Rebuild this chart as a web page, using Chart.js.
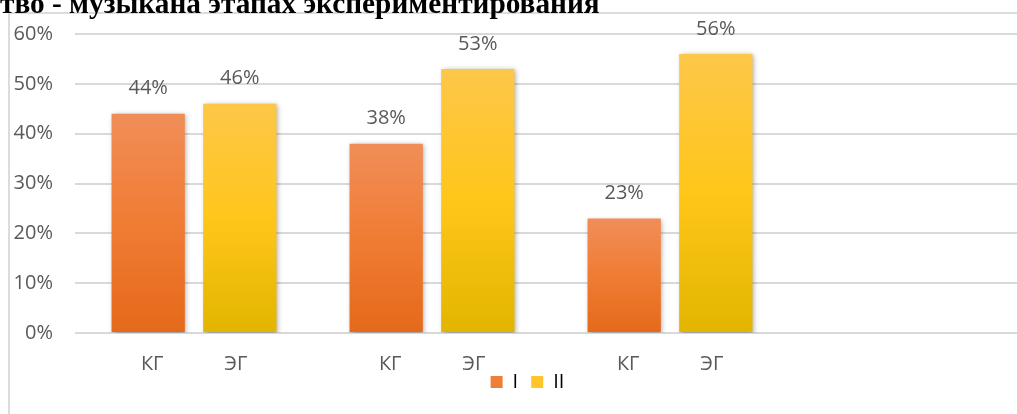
<!DOCTYPE html>
<html lang="ru">
<head>
<meta charset="utf-8">
<title>Уровни по этапам</title>
<script src="https://cdn.jsdelivr.net/npm/chart.js@4.4.1/dist/chart.umd.min.js"></script>
<style>
  html, body { margin: 0; padding: 0; background: #fff; overflow: hidden; width: 1017px; height: 414px; }
  #frame { position: absolute; left: 8px; top: 12px; width: 1100px; height: 420px;
           border-left: 2px solid #dcdcdc; border-top: 2px solid #dcdcdc; box-sizing: border-box; }
  #heading { position: absolute; left: 0; top: -11px; margin: 0; white-space: nowrap;
             font: bold 29.3px "Liberation Serif", "Times New Roman", serif; color: #000; line-height: 29px; z-index: 2; }
  #chart { position: absolute; left: 0; top: 0; }
</style>
</head>
<body>
<div id="frame"></div>
<div id="heading">тво - музыкана этапах экспериментирования</div>
<canvas id="chart" width="1040" height="414"></canvas>
<script>
// Groups on the axis (the last slot is left empty on purpose)
const groups = ['1', '2', '3', ''];
// Bar captions under each series bar
const groupLabelsI = ['КГ', 'КГ', 'КГ'];
const groupLabelsII = ['ЭГ', 'ЭГ', 'ЭГ'];
// Series values, percent
const seriesI = [44, 38, 23, null];
const seriesII = [46, 53, 56, null];
const seriesNames = ['I', 'II'];
// Y-axis range
const yMax = 60;
const yStep = 10;

const textGray = '#595959';
const uiFont = '"Open Sans", "Segoe UI", sans-serif';

function barGradient(stops) {
  return (ctx) => {
    const chart = ctx.chart;
    const area = chart.chartArea;
    if (!area || ctx.type !== 'data' || ctx.raw == null) return stops[1];
    const yScale = chart.scales.y;
    const top = yScale.getPixelForValue(ctx.raw);
    const bottom = yScale.getPixelForValue(0);
    const g = chart.ctx.createLinearGradient(0, top, 0, bottom);
    g.addColorStop(0, stops[0]);
    g.addColorStop(0.5, stops[1]);
    g.addColorStop(1, stops[2]);
    return g;
  };
}

const orangeStops = ['#F08E58', '#F07C34', '#E5691A'];
const yellowStops = ['#FDC749', '#FFC61A', '#E2B500'];

// Soft drop shadow under the bars
const barShadow = {
  id: 'barShadow',
  beforeDatasetsDraw(chart) {
    const c = chart.ctx;
    c.save();
    c.shadowColor = 'rgba(0,0,0,0.34)';
    c.shadowBlur = 5;
    c.shadowOffsetX = 1.5;
    c.shadowOffsetY = 1.5;
  },
  afterDatasetsDraw(chart) {
    chart.ctx.restore();
  }
};

// Move the legend a little to the right of the canvas centre
const legendShift = {
  id: 'legendShift',
  beforeDraw(chart, args, opts) {
    const lg = chart.legend;
    if (!lg || lg.__shifted) return;
    const draw = lg.draw.bind(lg);
    lg.draw = function (area) {
      chart.ctx.save();
      chart.ctx.translate(opts.dx || 0, 0);
      draw(area);
      chart.ctx.restore();
    };
    lg.__shifted = true;
  }
};

// Value labels above bars and КГ / ЭГ captions under them
const barText = {
  id: 'barText',
  afterDatasetsDraw(chart) {
    const c = chart.ctx;
    const area = chart.chartArea;
    c.save();
    c.fillStyle = textGray;
    c.font = '20px ' + uiFont;
    c.textAlign = 'center';
    c.textBaseline = 'middle';
    const captions = [groupLabelsI, groupLabelsII];
    const nudge = [4, -4];
    chart.data.datasets.forEach((ds, di) => {
      const meta = chart.getDatasetMeta(di);
      meta.data.forEach((bar, i) => {
        const v = ds.data[i];
        if (v == null) return;
        c.fillText(v + '%', bar.x, bar.y - 25);
        const cap = captions[di][i];
        if (cap) c.fillText(cap, bar.x + nudge[di], area.bottom + 31);
      });
    });
    c.restore();
  }
};

new Chart(document.getElementById('chart'), {
  type: 'bar',
  data: {
    labels: groups,
    datasets: [
      { label: seriesNames[0], data: seriesI, backgroundColor: barGradient(orangeStops) },
      { label: seriesNames[1], data: seriesII, backgroundColor: barGradient(yellowStops) }
    ]
  },
  options: {
    responsive: false,
    animation: false,
    devicePixelRatio: 1,
    categoryPercentage: 0.77,
    barPercentage: 0.8,
    layout: { padding: { left: 0, right: 13, top: 32, bottom: 12 } },
    scales: {
      x: {
        grid: { display: false, drawTicks: false },
        border: { display: false },
        ticks: { display: false },
        afterFit(scale) { scale.height = 26; }
      },
      y: {
        min: 0,
        max: yMax,
        ticks: {
          stepSize: yStep,
          padding: 22,
          color: textGray,
          font: { family: uiFont, size: 20 },
          callback: (v) => v + '%'
        },
        grid: { color: '#D9D9D9', lineWidth: 2, drawTicks: false },
        border: { display: false },
        afterFit(scale) { scale.width = 75; }
      }
    },
    plugins: {
      legendShift: { dx: 14 },
      legend: {
        position: 'bottom',
        labels: {
          boxWidth: 12,
          boxHeight: 12,
          padding: 13,
          color: textGray,
          font: { family: uiFont, size: 20 },
          generateLabels: () => [
            { text: seriesNames[0], fillStyle: '#F07D38', strokeStyle: '#F07D38', lineWidth: 0, datasetIndex: 0 },
            { text: seriesNames[1], fillStyle: '#FFC52A', strokeStyle: '#FFC52A', lineWidth: 0, datasetIndex: 1 }
          ]
        }
      },
      tooltip: { enabled: false }
    }
  },
  plugins: [barShadow, legendShift, barText]
});
</script>
</body>
</html>
